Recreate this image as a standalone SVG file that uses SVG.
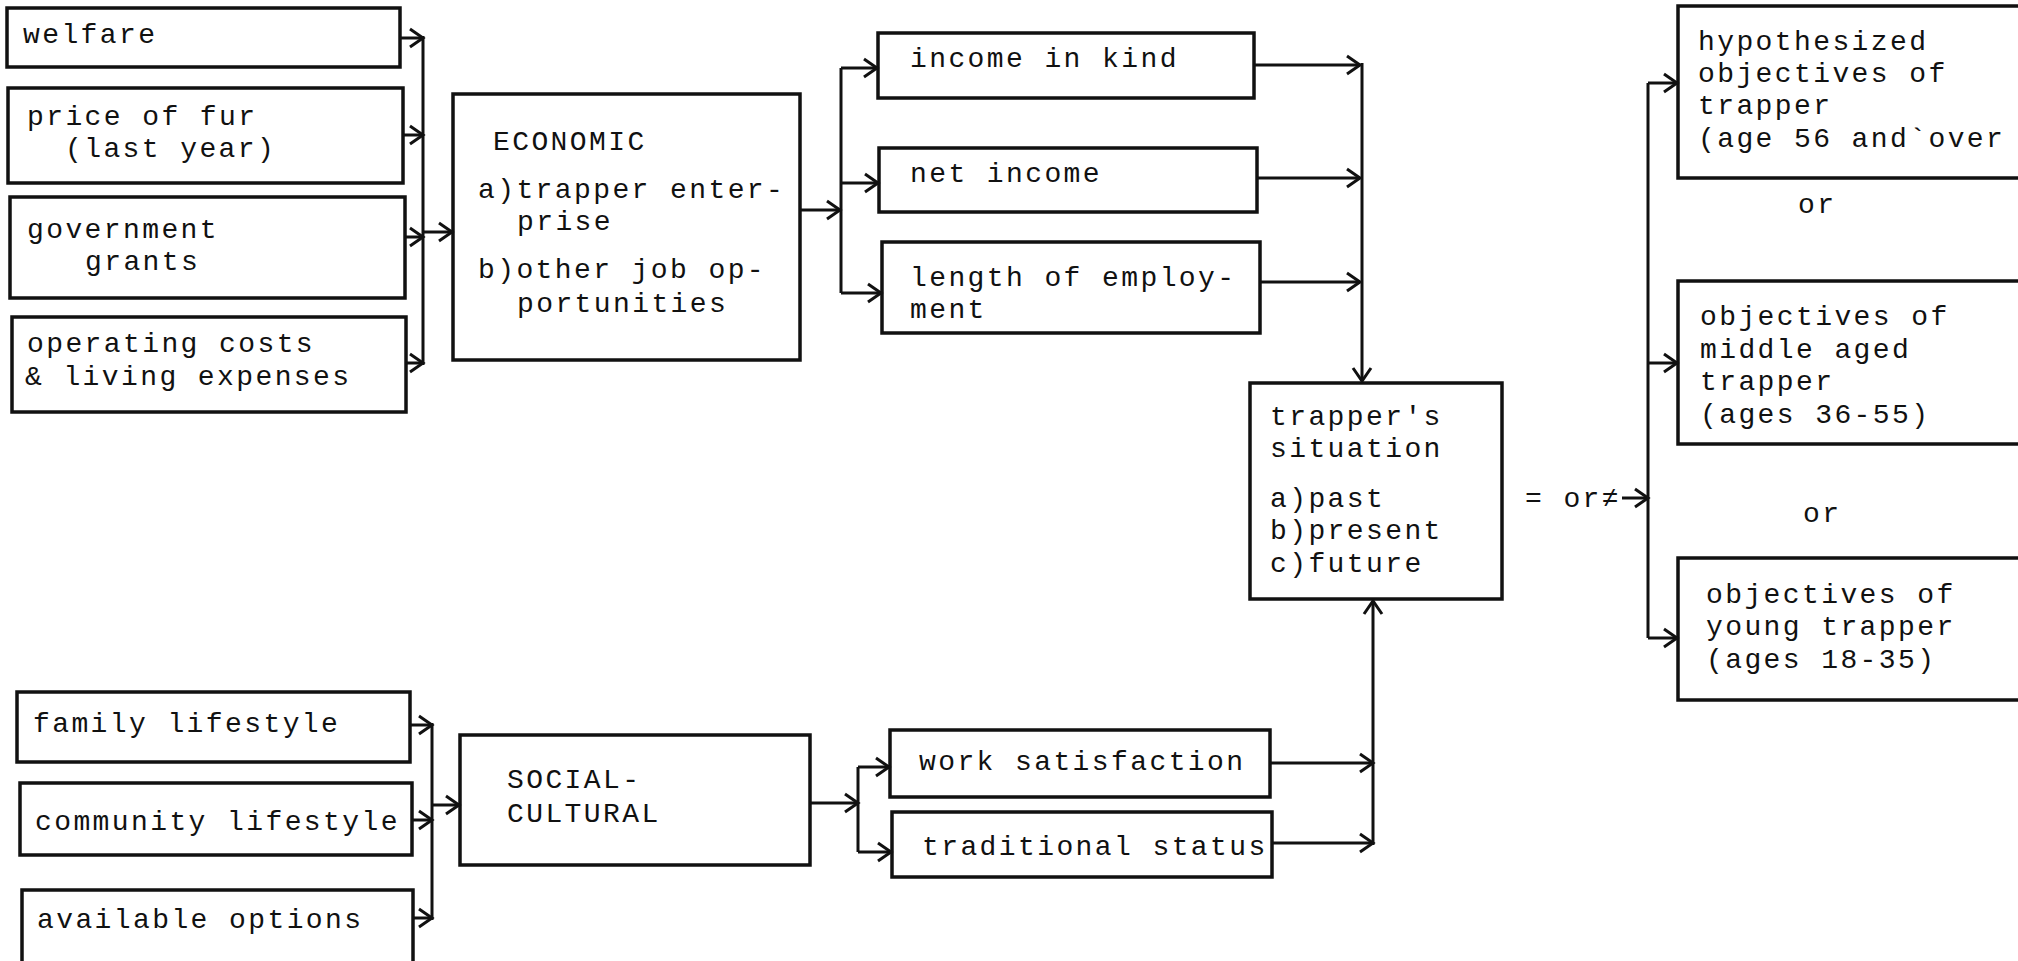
<svg xmlns="http://www.w3.org/2000/svg" width="2018" height="961" viewBox="0 0 2018 961">
<style>
.box{fill:none;stroke:#111;stroke-width:3.5}
.ln{fill:none;stroke:#111;stroke-width:3}
.ar{fill:none;stroke:#111;stroke-width:3;marker-end:url(#ah)}
text{font-family:"Liberation Mono","DejaVu Sans Mono",monospace;font-size:28px;letter-spacing:2.4px;fill:#111}
</style>
<defs>
<marker id="ah" markerUnits="userSpaceOnUse" markerWidth="30" markerHeight="30" viewBox="-20 -15 24 30" refX="0" refY="0" orient="auto">
<path d="M-13,-9 L0,0 L-13,9" fill="none" stroke="#111" stroke-width="3"/>
</marker>
</defs>
<rect width="2018" height="961" fill="#fff"/>

<g id="welfare"><rect class="box" x="7" y="8" width="393" height="59"/><text x="23" y="43">welfare</text></g>
<g id="price-of-fur"><rect class="box" x="8" y="88" width="395" height="95"/><text><tspan x="27" y="125">price of fur</tspan><tspan x="65" y="157">(last year)</tspan></text></g>
<g id="government-grants"><rect class="box" x="10" y="197" width="395" height="101"/><text><tspan x="27" y="238">government</tspan><tspan x="85" y="270">grants</tspan></text></g>
<g id="operating-costs"><rect class="box" x="12" y="317" width="394" height="95"/><text><tspan x="27" y="352">operating costs</tspan><tspan x="25" y="385">&amp; living expenses</tspan></text></g>

<g id="economic"><rect class="box" x="453" y="94" width="347" height="266"/>
<text><tspan x="493" y="150">ECONOMIC</tspan><tspan x="478" y="198">a)trapper enter-</tspan><tspan x="517" y="230">prise</tspan><tspan x="478" y="278">b)other job op-</tspan><tspan x="517" y="312">portunities</tspan></text></g>

<g id="income-in-kind"><rect class="box" x="878" y="33" width="376" height="65"/><text x="910" y="67">income in kind</text></g>
<g id="net-income"><rect class="box" x="879" y="148" width="378" height="64"/><text x="910" y="182">net income</text></g>
<g id="length-of-employment"><rect class="box" x="882" y="242" width="378" height="91"/><text><tspan x="910" y="286">length of employ-</tspan><tspan x="910" y="318">ment</tspan></text></g>

<g id="trappers-situation"><rect class="box" x="1250" y="383" width="252" height="216"/>
<text><tspan x="1270" y="425">trapper's</tspan><tspan x="1270" y="457">situation</tspan><tspan x="1270" y="507">a)past</tspan><tspan x="1270" y="539">b)present</tspan><tspan x="1270" y="572">c)future</tspan></text></g>

<g id="relation-label"><text x="1525" y="507">= or≠</text></g>

<g id="objectives-old"><rect class="box" x="1678" y="6" width="360" height="172"/>
<text><tspan x="1698" y="50">hypothesized</tspan><tspan x="1698" y="82">objectives of</tspan><tspan x="1698" y="114">trapper</tspan><tspan x="1698" y="147">(age 56 and`over</tspan></text></g>
<g id="or-1"><text x="1798" y="213">or</text></g>
<g id="objectives-middle"><rect class="box" x="1678" y="281" width="360" height="163"/>
<text><tspan x="1700" y="325">objectives of</tspan><tspan x="1700" y="358">middle aged</tspan><tspan x="1700" y="390">trapper</tspan><tspan x="1700" y="423">(ages 36-55)</tspan></text></g>
<g id="or-2"><text x="1803" y="522">or</text></g>
<g id="objectives-young"><rect class="box" x="1678" y="558" width="360" height="142"/>
<text><tspan x="1706" y="603">objectives of</tspan><tspan x="1706" y="635">young trapper</tspan><tspan x="1706" y="668">(ages 18-35)</tspan></text></g>

<g id="family-lifestyle"><rect class="box" x="17" y="692" width="393" height="70"/><text x="33" y="732">family lifestyle</text></g>
<g id="community-lifestyle"><rect class="box" x="20" y="783" width="392" height="72"/><text x="35" y="830">community lifestyle</text></g>
<g id="available-options"><rect class="box" x="22" y="890" width="391" height="80"/><text x="37" y="928">available options</text></g>

<g id="social-cultural"><rect class="box" x="460" y="735" width="350" height="130"/><text><tspan x="507" y="788">SOCIAL-</tspan><tspan x="507" y="822">CULTURAL</tspan></text></g>

<g id="work-satisfaction"><rect class="box" x="890" y="730" width="380" height="67"/><text x="919" y="770">work satisfaction</text></g>
<g id="traditional-status"><rect class="box" x="892" y="812" width="380" height="65"/><text x="922" y="855">traditional status</text></g>

<g id="connectors">
<line class="ar" x1="400" y1="38" x2="423" y2="38"/>
<line class="ar" x1="403" y1="135" x2="423" y2="135"/>
<line class="ar" x1="405" y1="237" x2="423" y2="237"/>
<line class="ar" x1="406" y1="363" x2="423" y2="363"/>
<line class="ln" x1="423" y1="36" x2="423" y2="365"/>
<line class="ar" x1="423" y1="232" x2="452" y2="232"/>

<line class="ar" x1="800" y1="210" x2="840" y2="210"/>
<line class="ln" x1="841" y1="68" x2="841" y2="293"/>
<line class="ar" x1="841" y1="68" x2="877" y2="68"/>
<line class="ar" x1="841" y1="183" x2="878" y2="183"/>
<line class="ar" x1="841" y1="293" x2="881" y2="293"/>

<line class="ar" x1="1254" y1="65" x2="1360" y2="65"/>
<line class="ar" x1="1257" y1="178" x2="1360" y2="178"/>
<line class="ar" x1="1260" y1="282" x2="1360" y2="282"/>
<line class="ar" x1="1362" y1="63" x2="1362" y2="381"/>

<line class="ar" x1="1622" y1="498" x2="1648" y2="498"/>
<line class="ln" x1="1648" y1="83" x2="1648" y2="638"/>
<line class="ar" x1="1648" y1="83" x2="1677" y2="83"/>
<line class="ar" x1="1648" y1="363" x2="1677" y2="363"/>
<line class="ar" x1="1648" y1="638" x2="1677" y2="638"/>

<line class="ar" x1="410" y1="725" x2="432" y2="725"/>
<line class="ar" x1="412" y1="820" x2="432" y2="820"/>
<line class="ar" x1="413" y1="918" x2="432" y2="918"/>
<line class="ln" x1="432" y1="723" x2="432" y2="920"/>
<line class="ar" x1="432" y1="805" x2="459" y2="805"/>

<line class="ar" x1="810" y1="803" x2="858" y2="803"/>
<line class="ln" x1="858" y1="767" x2="858" y2="852"/>
<line class="ar" x1="858" y1="767" x2="889" y2="767"/>
<line class="ar" x1="858" y1="852" x2="891" y2="852"/>

<line class="ar" x1="1270" y1="763" x2="1373" y2="763"/>
<line class="ar" x1="1272" y1="843" x2="1373" y2="843"/>
<line class="ar" x1="1373" y1="845" x2="1373" y2="601"/>
</g>
</svg>
